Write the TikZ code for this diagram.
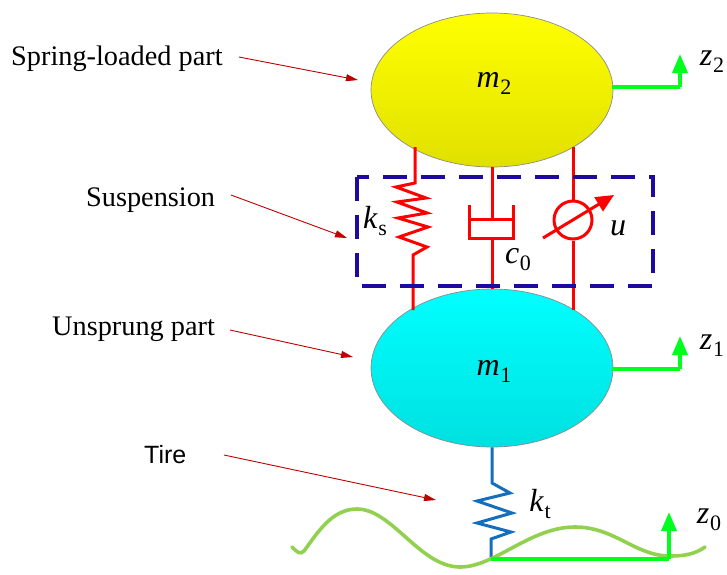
\documentclass[tikz,border=0pt]{standalone}
\usepackage{fontspec}
\setmainfont{Liberation Serif}
\newfontfamily\tirefont{Liberation Sans}
\usetikzlibrary{arrows.meta,shapes.geometric}
\newcommand{\symb}[2]{\textit{#1}\kern0.02em\raisebox{-0.22em}{\fontsize{22}{22}\selectfont #2}}
\definecolor{susp}{RGB}{255,0,0}
\definecolor{boxblue}{RGB}{30,10,160}
\definecolor{tireblue}{RGB}{20,110,190}
\definecolor{road}{RGB}{146,208,80}
\definecolor{grn}{RGB}{0,255,30}
\definecolor{note}{RGB}{192,0,0}
\tikzset{
  mass/.style={draw=black!45,line width=0.7pt,ellipse,inner sep=0pt,minimum width=242pt},
  redline/.style={draw=susp,line width=3pt,line join=miter},
  blueline/.style={draw=tireblue,line width=3pt},
  greenline/.style={draw=grn,line width=3.6pt},
  greenarrow/.style={draw=grn,line width=3.6pt,-{Triangle[length=19pt,width=15pt]}},
  notearrow/.style={draw=note,line width=0.9pt,-{Triangle[length=12pt,width=7pt]}},
  lab/.style={font=\fontsize{28.3}{28}\selectfont,inner sep=0pt},
  sym/.style={font=\fontsize{32}{32}\selectfont,inner sep=0pt},
}
\begin{document}
\begin{tikzpicture}[x=1pt,y=-1pt]
\useasboundingbox (0,0) rectangle (727,574);
% masses
\node[mass,minimum height=154pt,top color=yellow,bottom color=yellow!88!black] (m2) at (492,90) {};
\node[mass,minimum height=158pt,top color=cyan,bottom color=cyan!88!black] (m1) at (492,368) {};
\coordinate (m2r) at (612,87);
\coordinate (m1r) at (612,369);
\node[sym] (mtwo) at (494,83) {\symb{m}{2}};
\node[sym] (mone) at (494,371) {\symb{m}{1}};
% suspension connectors
\coordinate (kstop) at (415,147);
\coordinate (ksbot) at (413,310);
\draw[redline] (kstop) -- (415,183) -- (396,187) -- (426,198) -- (397,202) -- (427,213) -- (398,218) -- (428,227) -- (399,237) -- (427,247) -- (413,255) -- (ksbot);
\draw[redline] (m2.south) -- (492,219);
\draw[redline] (469,205) -- (469,238) -- (513,238) -- (513,205);
\draw[redline] (469,219) -- (513,219);
\draw[redline] (492,238) -- (m1.north);
\node[draw=susp,line width=3pt,circle,minimum size=38pt,inner sep=0pt] (act) at (573,220) {};
\coordinate (utop) at (573,147);
\coordinate (ubot) at (573,310);
\draw[redline] (utop) -- (act.north);
\draw[redline] (act.south) -- (ubot);
\coordinate (ua) at (543,238);
\coordinate (ub) at (614,195);
\draw[draw=susp,line width=3pt,-{Triangle[length=18pt,width=16pt]}] (ua) -- (ub);
% dashed box
\draw[boxblue,line width=3.4pt,dash pattern=on 24pt off 14pt] (357,177) rectangle (653,286);
% tire
\coordinate (ktbot) at (491,559);
\draw[blueline] (m1.south) -- (492,483) -- (510,493) -- (477,501) -- (512,513) -- (477,523) -- (511,532) -- (491,539) -- (ktbot);
% road
\draw[road,line width=3.6pt,line cap=round] (292,547) .. controls (297,552) and (300,555) .. (304,551) .. controls (318,532) and (332,509) .. (357,509) .. controls (392,509) and (420,567) .. (460,567) .. controls (495,567) and (530,527) .. (575,527) .. controls (615,527) and (635,556) .. (670,556) .. controls (685,556) and (695,554) .. (705,547);
% z arrows
\coordinate (z0c) at (669,559);
\coordinate (z0t) at (669,512);
\draw[greenline] (ktbot) -- (z0c);
\draw[greenarrow] (z0c) -- (z0t);
\coordinate (z2c) at (680,87);
\coordinate (z2t) at (680,54);
\draw[greenline] (m2r) -- (z2c);
\draw[greenarrow] (z2c) -- (z2t);
\coordinate (z1c) at (680,369);
\coordinate (z1t) at (680,336);
\draw[greenline] (m1r) -- (z1c);
\draw[greenarrow] (z1c) -- (z1t);
% annotation arrows
\coordinate (a1s) at (239,57); \coordinate (a1e) at (358,80);
\coordinate (a2s) at (231,195); \coordinate (a2e) at (347,238);
\coordinate (a3s) at (230,330); \coordinate (a3e) at (353,357);
\coordinate (a4s) at (224,455); \coordinate (a4e) at (436,500);
\draw[notearrow] (a1s) -- (a1e);
\draw[notearrow] (a2s) -- (a2e);
\draw[notearrow] (a3s) -- (a3e);
\draw[notearrow] (a4s) -- (a4e);
% labels
\node[lab,anchor=west] (t1) at (11,59) {Spring-loaded part};
\node[lab,anchor=west] (t2) at (86,200) {Suspension};
\node[lab,anchor=west] (t3) at (52,329) {Unsprung part};
\node[anchor=west,inner sep=0pt,font=\tirefont\fontsize{25}{25}\selectfont] (t4) at (144,455) {Tire};
\node[sym] (lks) at (375,221) {\symb{k}{s}};
\node[sym] (lc) at (518,260) {\symb{c}{0}};
\node[sym] (lu) at (618,228) {\textit{u}};
\node[sym] (lkt) at (540,504) {\symb{k}{t}};
\node[sym] (lz2) at (712,62) {\symb{z}{2}};
\node[sym] (lz1) at (712,346) {\symb{z}{1}};
\node[sym] (lz0) at (709,520) {\symb{z}{0}};
\end{tikzpicture}
\end{document}
